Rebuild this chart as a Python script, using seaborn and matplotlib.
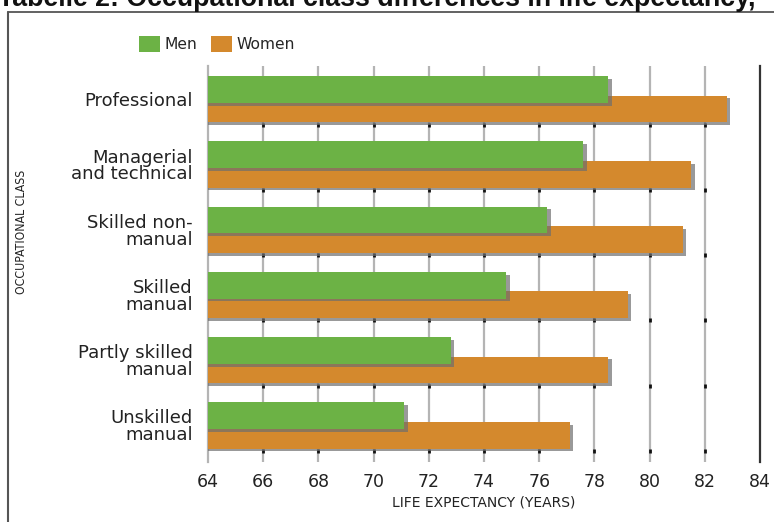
import numpy as np
import pandas as pd
import matplotlib
matplotlib.use("Agg")
import matplotlib.pyplot as plt
import matplotlib.patheffects as pe
from matplotlib.lines import Line2D
from matplotlib.patches import Patch
import seaborn as sns

# Life expectancy by occupational class
categories = [
    "Professional",
    "Managerial\nand technical",
    "Skilled non-\nmanual",
    "Skilled\nmanual",
    "Partly skilled\nmanual",
    "Unskilled\nmanual",
]
men = [78.5, 77.6, 76.3, 74.8, 72.8, 71.1]
women = [82.8, 81.5, 81.2, 79.2, 78.5, 77.1]
x_ticks = [64, 66, 68, 70, 72, 74, 76, 78, 80, 82, 84]

GREEN = "#6cb245"
ORANGE = "#d4892d"

sns.set_style("white")
plt.rcParams["font.family"] = ["DejaVu Sans"]

W, H = 774, 522
fig = plt.figure(figsize=(W / 100, H / 100), dpi=100)
ax = fig.add_axes([208 / W, 1 - 462 / H, (760 - 208) / W, (462 - 66) / H])

pos = np.arange(len(categories))
df = pd.DataFrame({"pos": pos, "men": men, "women": women})
df["pos_men"] = df["pos"] - 0.15
df["pos_women"] = df["pos"] + 0.15

shadow = [pe.SimplePatchShadow(offset=(2.6, -2.0), shadow_rgbFace="#6e6e6e", alpha=0.7), pe.Normal()]

sns.barplot(data=df, x="women", y="pos_women", orient="h", native_scale=True,
            width=0.41, color=ORANGE, saturation=1, errorbar=None, ax=ax,
            linewidth=0, zorder=3)
sns.barplot(data=df, x="men", y="pos_men", orient="h", native_scale=True,
            width=0.41, color=GREEN, saturation=1, errorbar=None, ax=ax,
            linewidth=0, zorder=4)
for p in ax.patches:
    p.set_path_effects(shadow)

ax.set_xlim(64, 84)
ax.set_ylim(5.56, -0.51)

# vertical grid
for xv in x_ticks[1:-1]:
    ax.axvline(xv, color="#b4b4b4", lw=1.6, zorder=1)
# short dark marks between class groups
for xv in x_ticks[1:-1]:
    for p0 in pos:
        ax.vlines(xv, p0 + 0.36, p0 + 0.42, color="#111111", lw=2.0, zorder=2)

for s in ["top", "bottom"]:
    ax.spines[s].set_visible(False)
ax.spines["left"].set_color("#b4b4b4")
ax.spines["left"].set_linewidth(1.6)
ax.spines["right"].set_color("#333333")
ax.spines["right"].set_linewidth(1.6)

ax.set_xticks(x_ticks)
ax.set_xticklabels([str(v) for v in x_ticks], fontsize=12.5, color="#222222")
ax.tick_params(axis="x", length=0, pad=8)
ax.set_yticks(pos)
ax.set_yticklabels(categories, fontsize=13, color="#222222", linespacing=0.92)
ax.tick_params(axis="y", length=0, pad=11)
ax.set_xlabel("LIFE EXPECTANCY (YEARS)", fontsize=10, color="#222222", labelpad=3)
ax.set_ylabel("")

fig.text(22 / W, 1 - 232 / H, "OCCUPATIONAL CLASS", rotation=90, ha="center",
         va="center", fontsize=8.8, fontstretch="condensed", color="#222222")

handles = [Patch(facecolor=GREEN, edgecolor="none"), Patch(facecolor=ORANGE, edgecolor="none")]
fig.legend(handles, ["Men", "Women"], loc="center left",
           bbox_to_anchor=(139 / W, 1 - 44 / H), ncol=2, frameon=False,
           fontsize=11.2, handlelength=1.35, handleheight=1.25, handletextpad=0.3,
           columnspacing=0.85, borderpad=0, borderaxespad=0)

# page frame and heading
fig.add_artist(Line2D([8 / W, 1], [1 - 12 / H, 1 - 12 / H], color="#555555", lw=1.3))
fig.add_artist(Line2D([8 / W, 8 / W], [1 - 12 / H, 0], color="#555555", lw=1.5))
fig.text(-0.002, 1 - 6 / H, "Tabelle 2: Occupational class differences in life expectancy,",
         ha="left", va="baseline", fontsize=19.3, fontweight="bold",
         family=["Liberation Sans", "DejaVu Sans"], color="#111111")

fig.savefig("out.png", dpi=100)
